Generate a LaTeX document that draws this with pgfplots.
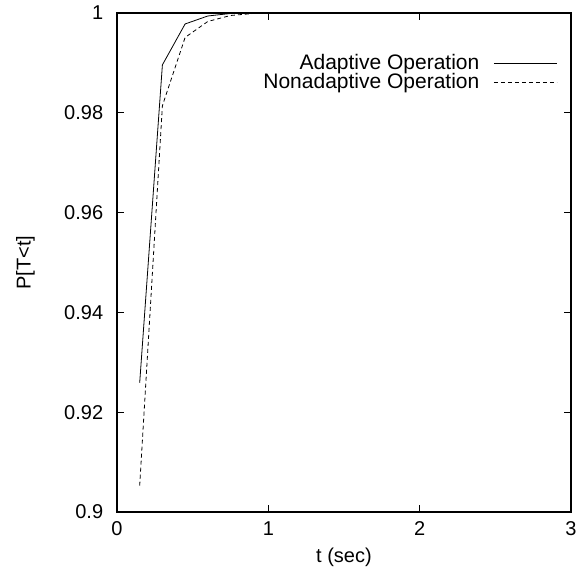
\documentclass[border=0pt]{standalone}
\usepackage{fontspec}
\setmainfont{Liberation Sans}
\usepackage{pgfplots}
\pgfplotsset{compat=1.18}
\begin{document}
\fontsize{20}{24}\selectfont
\begin{tikzpicture}
\begin{axis}[
  scale only axis,
  width=454pt, height=499pt,
  xmin=0, xmax=3, ymin=0.9, ymax=1,
  xtick={0,1,2,3},
  ytick={0.9,0.92,0.94,0.96,0.98,1},
  yticklabels={0.9,0.92,0.94,0.96,0.98,1},
  tick align=inside,
  major tick length=7pt,
  tick style={black, line width=0.9pt},
  axis line style={line width=1.3pt},
  /pgf/number format/assume math mode=true,
  ticklabel style={font=\fontsize{20}{24}\selectfont},
  xticklabel style={yshift=-3pt},
  yticklabel style={xshift=-7pt},
  xlabel={t (sec)},
  ylabel={P[T<t]},
  label style={font=\fontsize{20}{24}\selectfont},
  xlabel style={yshift=2pt},
  ylabel style={yshift=16pt},
  legend style={at={(0.97,0.918)}, anchor=north east, draw=none, fill=none,
    legend plot pos=right, legend cell align=right, row sep=0.5pt,
    font=\fontsize{21}{25}\selectfont, inner sep=0pt,
    nodes={inner sep=0pt},
    /tikz/every odd column/.append style={column sep=14pt}},
  legend image code/.code={\draw[#1] (0pt,0pt) -- (63pt,0pt);},
]
\coordinate (sw) at (rel axis cs:0,0);
\coordinate (ne) at (rel axis cs:1,1);
\addplot[black, line width=0.8pt] coordinates {
  (0.15,0.9259) (0.30,0.9896) (0.45,0.9978) (0.60,0.9994) (0.75,0.9999) (1.0,1.0)
};
\addplot[black, line width=0.8pt, dash pattern=on 4pt off 3pt] coordinates {
  (0.15,0.9053) (0.30,0.9814) (0.45,0.9951) (0.60,0.9983) (0.75,0.9995) (0.90,0.9999) (1.0,1.0)
};
\legend{Adaptive Operation, Nonadaptive Operation}
\end{axis}
\pgfresetboundingbox
\path ([shift={(-117pt,-60pt)}]sw) rectangle ([shift={(10pt,13pt)}]ne);
\end{tikzpicture}
\end{document}
